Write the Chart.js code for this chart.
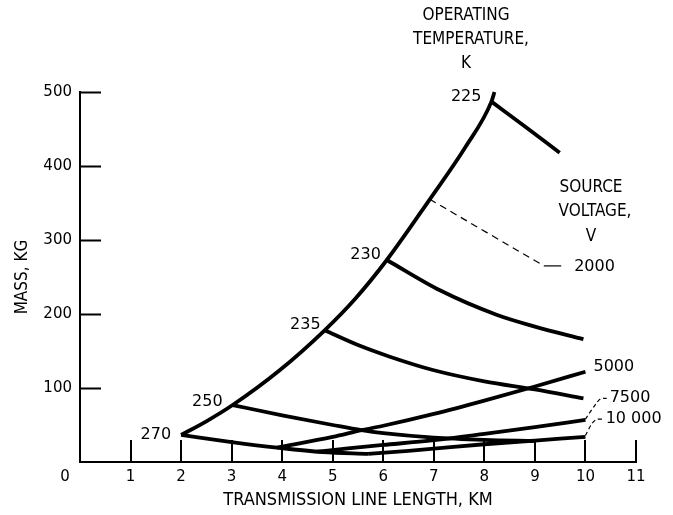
<!DOCTYPE html>
<html>
<head>
<meta charset="utf-8">
<script src="https://cdn.jsdelivr.net/npm/chart.js@4/dist/chart.umd.min.js"></script>
<style>
  html, body { margin: 0; padding: 0; background: #fff; }
  canvas { display: block; }
</style>
</head>
<body>
<canvas id="c" width="673" height="515"></canvas>
<script>
// Axis ticks
const xTicks = [0, 1, 2, 3, 4, 5, 6, 7, 8, 9, 10, 11];
const yTicks = [0, 100, 200, 300, 400, 500];

// Constant source-voltage lines: [length km, mass kg]
const v2000  = [[2.0, 36.5], [2.5, 55], [3.02, 77], [3.95, 124], [4.84, 178], [5.45, 221], [6.07, 273], [6.92, 355], [7.62, 425], [8.14, 487], [8.2, 500]];
const v5000  = [[3.9, 19.5], [5.0, 34], [5.57, 43], [6.0, 49], [7.0, 65], [8.0, 83], [9.0, 102], [10.0, 122]];
const v7500  = [[4.7, 14], [5.3, 18.5], [6.0, 23], [7.0, 29.5], [8.0, 38], [9.0, 47], [10.0, 57]];
const v10000 = [[5.7, 11], [6.5, 15], [7.0, 18], [8.0, 24], [9.0, 29], [10.0, 34]];

// Constant operating-temperature lines: [length km, mass kg]
const t225 = [[8.14, 487], [8.83, 452], [9.49, 418]];
const t230 = [[6.07, 273], [7.12, 232], [8.24, 199], [9.0, 183], [9.96, 166]];
const t235 = [[4.84, 178], [5.5, 158], [6.1, 143], [7.0, 124], [8.0, 109], [9.0, 98], [9.96, 86]];
const t250 = [[3.02, 77], [4.0, 63], [5.0, 50], [5.57, 43], [6.0, 39], [7.0, 33], [8.0, 30], [9.0, 28.5]];
const t270 = [[2.0, 36.5], [3.0, 27], [3.9, 19.5], [4.8, 13.5], [5.7, 11]];

// Label leaders
const lead2000     = [[6.92, 355], [9.18, 265]];
const lead2000Tail = [[9.18, 265], [9.52, 265]];
const lead7500     = [[10.0, 58], [10.2, 78], [10.3, 85.5], [10.42, 86]];
const lead10000    = [[10.0, 36], [10.13, 52], [10.22, 57.5], [10.34, 58]];

const tempNames    = ['225', '230', '235', '250', '270'];
const voltageNames = ['2000', '5000', '7500', '10 000'];

const pts = arr => arr.map(([x, y]) => ({ x, y }));

function curve(arr) {
  return {
    data: pts(arr), showLine: true, borderColor: '#000', borderWidth: 3.8,
    pointRadius: 0, cubicInterpolationMode: 'monotone', borderCapStyle: 'butt',
    borderJoinStyle: 'round', clip: false
  };
}
function leader(arr, dash) {
  return {
    data: pts(arr), showLine: true, borderColor: '#000', borderWidth: 1.2,
    pointRadius: 0, tension: 0.3, borderDash: dash, clip: false
  };
}

const DIGITS = '"DejaVu Sans", sans-serif';
const CAPS = '"Liberation Sans Narrow", "DejaVu Sans Condensed", sans-serif';

// Inward tick marks, annotation text and the origin "0"
const annotate = {
  id: 'annotate',
  afterDatasetsDraw(chart) {
    const { ctx, scales: { x, y } } = chart;
    ctx.save();
    ctx.strokeStyle = '#000';
    ctx.lineWidth = 2;
    ctx.beginPath();
    y.ticks.forEach(t => {
      if (t.value === 0) return;
      const py = Math.round(y.getPixelForValue(t.value)) + 0.5;
      ctx.moveTo(x.left, py); ctx.lineTo(x.left + 21, py);
    });
    x.ticks.forEach(t => {
      if (t.value === 0) return;
      const px = Math.round(x.getPixelForValue(t.value));
      ctx.moveTo(px, y.bottom); ctx.lineTo(px, y.bottom - 22);
    });
    ctx.stroke();

    ctx.fillStyle = '#000';
    ctx.textBaseline = 'middle';

    // origin label
    ctx.font = '15px ' + DIGITS;
    ctx.textAlign = 'center';
    ctx.fillText('0', x.getPixelForValue(0) - 15, 477);

    // temperature labels at each line's start
    const tempStarts = [t225[0], t230[0], t235[0], t250[0], t270[0]];
    const tempOff = [[-10, -5], [-6, -5], [-4, -5], [-10, -3], [-10, 0]];
    ctx.font = '16px ' + DIGITS;
    ctx.textAlign = 'right';
    tempStarts.forEach((p, i) => {
      ctx.fillText(tempNames[i], x.getPixelForValue(p[0]) + tempOff[i][0], y.getPixelForValue(p[1]) + tempOff[i][1]);
    });

    // voltage labels at leader / line ends
    const vAnchors = [lead2000Tail[lead2000Tail.length - 1], v5000[v5000.length - 1], lead7500[lead7500.length - 1], lead10000[lead10000.length - 1]];
    const vOff = [[13, 1], [8, -5], [3, -1], [3, 0]];
    ctx.font = '16px ' + DIGITS;
    ctx.textAlign = 'left';
    vAnchors.forEach((p, i) => {
      ctx.fillText(voltageNames[i], x.getPixelForValue(p[0]) + vOff[i][0], y.getPixelForValue(p[1]) + vOff[i][1]);
    });

    // group headings
    ctx.font = '17px ' + CAPS;
    ctx.textAlign = 'center';
    ctx.fillText('OPERATING', 466, 16);
    ctx.fillText('TEMPERATURE,', 471, 40);
    ctx.fillText('K', 466, 64);
    ctx.fillText('SOURCE', 591, 188);
    ctx.fillText('VOLTAGE,', 595, 212);
    ctx.fillText('V', 591, 237);
    ctx.restore();
  }
};

new Chart(document.getElementById('c'), {
  type: 'scatter',
  data: {
    datasets: [
      curve(v2000), curve(v5000), curve(v7500), curve(v10000),
      curve(t225), curve(t230), curve(t235), curve(t250), curve(t270),
      leader(lead2000, [7, 5]), leader(lead2000Tail, []),
      leader(lead7500, [4, 3]), leader(lead10000, [4, 3])
    ]
  },
  options: {
    responsive: false,
    animation: false,
    devicePixelRatio: 1,
    layout: { padding: { top: 92, right: 37, left: 0, bottom: 0 } },
    plugins: { legend: { display: false }, tooltip: { enabled: false } },
    scales: {
      x: {
        type: 'linear', min: 0, max: 11,
        afterBuildTicks: s => { s.ticks = xTicks.map(v => ({ value: v })); },
        afterFit: s => { s.height = 53; },
        grid: { display: false, drawTicks: false },
        border: { display: true, color: '#000', width: 2 },
        ticks: {
          color: '#000', padding: 6, maxRotation: 0, autoSkip: false,
          font: { family: DIGITS, size: 15 },
          callback: v => (v === 0 ? '' : String(v))
        },
        title: {
          display: true, text: 'TRANSMISSION LINE LENGTH, KM', color: '#000',
          font: { family: CAPS, size: 18 }, padding: { top: 0, bottom: 4 }
        }
      },
      y: {
        type: 'linear', min: 0, max: 500,
        afterBuildTicks: s => { s.ticks = yTicks.map(v => ({ value: v })); },
        afterFit: s => { s.width = 80; },
        grid: { display: false, drawTicks: false },
        border: { display: true, color: '#000', width: 2 },
        ticks: {
          color: '#000', padding: 8,
          font: { family: DIGITS, size: 15 },
          callback: v => (v === 0 ? '' : String(v))
        },
        title: {
          display: true, text: 'MASS, KG', color: '#000',
          font: { family: CAPS, size: 17 }, padding: { top: 12, bottom: 0 }
        }
      }
    }
  },
  plugins: [annotate]
});
</script>
</body>
</html>
